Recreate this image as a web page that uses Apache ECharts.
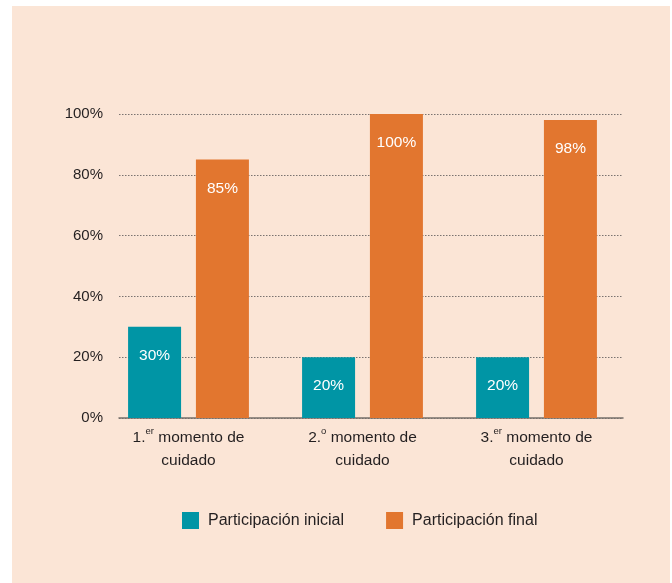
<!DOCTYPE html>
<html>
<head>
<meta charset="utf-8">
<script src="https://cdn.jsdelivr.net/npm/echarts@6/dist/echarts.min.js"></script>
<style>
  html, body { margin: 0; padding: 0; background: #ffffff; }
  #panel {
    position: absolute;
    left: 12px;
    top: 6px;
    width: 658px;
    height: 577px;
    background: #fbe5d6;
  }
  #chart {
    position: absolute;
    left: 0;
    top: 0;
    width: 672px;
    height: 583px;
  }
</style>
</head>
<body>
<div id="panel"></div>
<div id="chart"></div>
<script>
// data
const categories = ["{n|1.}{sup|er}{n| momento de}\n{n|cuidado}", "{n|2.}{sup|o}{n| momento de}\n{n|cuidado}", "{n|3.}{sup|er}{n| momento de}\n{n|cuidado}"];
const inicial = [30, 20, 20];
const final = [85, 100, 98];
const seriesNames = ["Participación inicial", "Participación final"];
const yTicks = [0, 20, 40, 60, 80, 100];

const FONT = "'Liberation Sans', Arial, sans-serif";
const TEAL = "#0095a5";
const ORANGE = "#e2762f";
const INK = "#231f20";

const chart = echarts.init(document.getElementById("chart"), null, { renderer: "canvas" });

const barLabel = {
    show: true,
    position: "insideTop",
    distance: 21,
    color: "#ffffff",
    fontFamily: FONT,
    fontSize: 15.5,
    formatter: "{c}%",
};

const option = {
    backgroundColor: "transparent",
    animation: false,
    textStyle: { fontFamily: FONT },
    grid: [
        // bars grid
        { left: 101.5, right: 48.5, top: 114, bottom: 165 },
        // gridlines / y labels grid
        { left: 119, right: 49, top: 114, bottom: 165 },
    ],
    legend: {
        data: seriesNames,
        left: 182,
        top: 512,
        padding: 0,
        icon: "rect",
        itemWidth: 17,
        itemHeight: 17,
        itemGap: 42,
        textStyle: {
            fontFamily: FONT,
            fontSize: 16,
            color: INK,
            padding: [0, 0, 0, 4],
        },
    },
    xAxis: [
        {
            gridIndex: 0,
            type: "category",
            data: categories,
            axisLine: { show: false },
            axisTick: { show: false },
            axisLabel: {
                interval: 0,
                margin: 8,
                color: INK,
                fontFamily: FONT,
                fontSize: 15.5,
                lineHeight: 23,
                rich: {
                    n: { fontFamily: FONT, fontSize: 15.5, color: INK, lineHeight: 23 },
                    sup: { fontFamily: FONT, fontSize: 9.5, color: INK, lineHeight: 14, verticalAlign: "top" },
                },
            },
        },
        {
            gridIndex: 1,
            type: "category",
            data: [""],
            axisLine: { show: true, lineStyle: { color: "#77706b", width: 1.5 } },
            axisTick: { show: false },
            axisLabel: { show: false },
        },
    ],
    yAxis: [
        {
            gridIndex: 0,
            type: "value",
            min: 0,
            max: 100,
            show: false,
            splitLine: { show: false },
        },
        {
            gridIndex: 1,
            type: "value",
            min: yTicks[0],
            max: yTicks[yTicks.length - 1],
            interval: 20,
            axisLine: { show: false },
            axisTick: { show: false },
            axisLabel: {
                margin: 16,
                color: INK,
                fontFamily: FONT,
                fontSize: 15,
                formatter: "{value}%",
            },
            splitLine: {
                show: true,
                lineStyle: { color: "#7a7370", width: 1, type: [1.5, 1.5] },
            },
        },
    ],
    series: [
        {
            name: seriesNames[0],
            type: "bar",
            xAxisIndex: 0,
            yAxisIndex: 0,
            data: inicial,
            barWidth: 53,
            barGap: "28%",
            itemStyle: { color: TEAL },
            label: barLabel,
            z: 3,
        },
        {
            name: seriesNames[1],
            type: "bar",
            xAxisIndex: 0,
            yAxisIndex: 0,
            data: final,
            barWidth: 53,
            barGap: "28%",
            itemStyle: { color: ORANGE },
            label: barLabel,
            z: 3,
        },
    ],
};

chart.setOption(option);
</script>
</body>
</html>
